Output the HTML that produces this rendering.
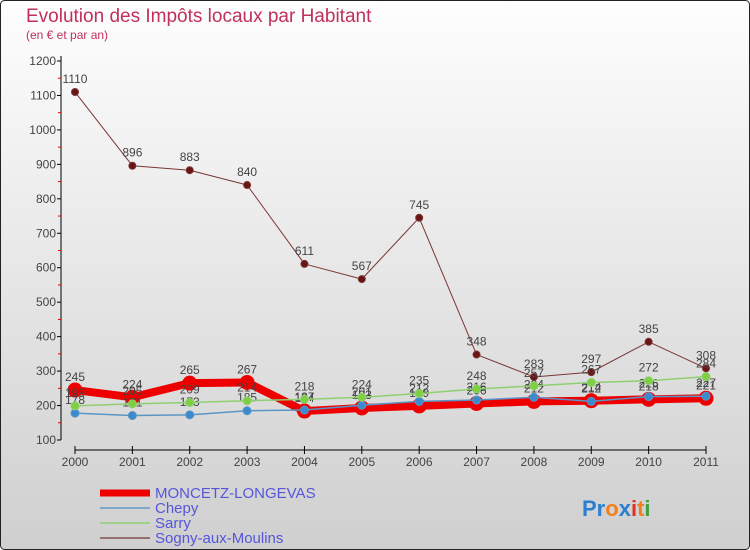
<!DOCTYPE html>
<html><head><meta charset="utf-8"><style>
body{margin:0;width:750px;height:550px;overflow:hidden}
svg{display:block;font-family:"Liberation Sans",sans-serif}
</style></head><body>
<svg width="750" height="550">
<defs><linearGradient id="bg" x1="0" y1="0" x2="0" y2="1"><stop offset="0" stop-color="#fefefe"/><stop offset="1" stop-color="#cfcfcf"/></linearGradient></defs>
<rect x="0.5" y="0.5" width="749" height="549" rx="4" fill="url(#bg)" stroke="#222"/>
<text x="26" y="22" font-size="19" fill="#c0305a">Evolution des Impôts locaux par Habitant</text>
<text x="26" y="39" font-size="12" fill="#c0305a">(en € et par an)</text>
<g id="axes"></g><g id="series"></g>
<g>
<line x1="100" y1="493" x2="150" y2="493" stroke="#e00" stroke-width="7"/>
<line x1="100" y1="508" x2="150" y2="508" stroke="#7fa8c8" stroke-width="2"/>
<line x1="100" y1="523" x2="150" y2="523" stroke="#9ed08a" stroke-width="2"/>
<line x1="100" y1="538" x2="150" y2="538" stroke="#957070" stroke-width="2"/>
<g font-size="15" fill="#5555dd">
<text x="155" y="498">MONCETZ-LONGEVAS</text>
<text x="155" y="513">Chepy</text>
<text x="155" y="528">Sarry</text>
<text x="155" y="543">Sogny-aux-Moulins</text>
</g></g>
<g font-size="22" font-weight="bold">
<text x="582" y="516"><tspan fill="#2a7fd0">Pr</tspan><tspan fill="#f08020">o</tspan><tspan fill="#2a7fd0">x</tspan><tspan fill="#e03020">i</tspan><tspan fill="#f08020">t</tspan><tspan fill="#40a040">i</tspan></text>
</g>
</svg>
<script>
const years=["2000","2001","2002","2003","2004","2005","2006","2007","2008","2009","2010","2011"];
const yTicks=[100,200,300,400,500,600,700,800,900,1000,1100,1200];
const moncetz=[245,224,265,267,184,193,199,206,212,214,218,221];
const chepy=[178,171,173,185,187,201,212,216,224,212,226,227];
const sarry=[199,205,209,214,218,224,235,248,257,267,272,284];
const sogny=[1110,896,883,840,611,567,745,348,283,297,385,308];
const NS="http://www.w3.org/2000/svg";
const xs=i=>75+i*(706-75)/(years.length-1);
const ys=v=>440-(v-100)*(440-61)/1100;
function mk(t,a,p){const e=document.createElementNS(NS,t);for(const k in a)e.setAttribute(k,a[k]);p.appendChild(e);return e;}
const ax=document.getElementById('axes');
mk('line',{x1:61,y1:56,x2:61,y2:440,stroke:'#000'},ax);
yTicks.forEach(v=>{mk('line',{x1:57,y1:ys(v),x2:61,y2:ys(v),stroke:'#000'},ax);
 if(v<1200)mk('line',{x1:58,y1:ys(v+50),x2:61,y2:ys(v+50),stroke:'#e00'},ax);
 const t=mk('text',{x:56,y:ys(v)+4,'text-anchor':'end','font-size':12,fill:'#444'},ax);t.textContent=v;
 
 });
mk('line',{x1:75,y1:450,x2:706,y2:450,stroke:'#000'},ax);
years.forEach((y,i)=>{mk('line',{x1:xs(i),y1:446,x2:xs(i),y2:454,stroke:'#000'},ax);
 const t=mk('text',{x:xs(i),y:466,'text-anchor':'middle','font-size':12,fill:'#444'},ax);t.textContent=y;
 
 });
const sg=document.getElementById('series');
function draw(data,name,col,w,r,fill){
 const g=mk('g',{},sg);
 
 
 mk('polyline',{points:data.map((v,i)=>xs(i)+','+ys(v)).join(' '),fill:'none',stroke:col,'stroke-width':w,'stroke-linejoin':'round'},g);
 data.forEach((v,i)=>{const c=mk('circle',{cx:xs(i),cy:ys(v),r:r,fill:fill,stroke:col,'stroke-width':1},g);
  
  
  const t=mk('text',{x:xs(i),y:ys(v)-9,'text-anchor':'middle','font-size':12,fill:'#444'},g);t.textContent=v;
  
  });
}
draw(sogny,'sogny','#7a3535',1,3.5,'#6a1515');
draw(moncetz,'moncetz','#e00',8,7,'#e00');
draw(chepy,'chepy','#5a95c5',1.5,4,'#3a8ad0');
draw(sarry,'sarry','#8ed070',1.5,4,'#7ed040');
</script>
</body></html>
